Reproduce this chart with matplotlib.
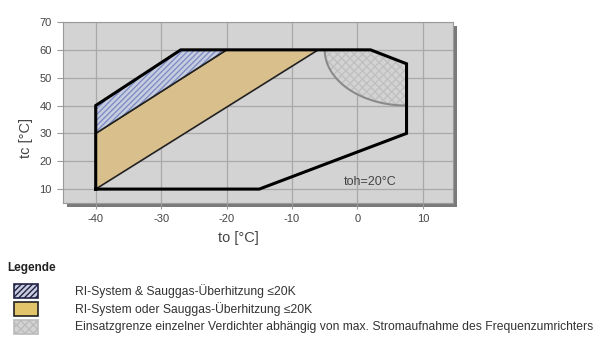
import matplotlib
matplotlib.use("Agg")
import matplotlib.pyplot as plt
from matplotlib.patches import Polygon, Rectangle
import numpy as np

plt.rcParams['font.family'] = ['Liberation Sans', 'DejaVu Sans']
plt.rcParams['hatch.linewidth'] = 1.0
plt.rcParams['axes.unicode_minus'] = False

# operating envelope (to, tc)
env_to = [-40, -40, -27, 2, 7.5, 7.5, -15, -40]
env_tc = [10, 40, 60, 60, 55, 30, 10, 10]
# RI-System & Sauggas-Ueberhitzung <=20K
blue_to = [-40, -40, -27, -20]
blue_tc = [30, 40, 60, 60]
# RI-System oder Sauggas-Ueberhitzung <=20K
tan_to = [-40, -40, -20, -6]
tan_tc = [10, 30, 60, 60]
# limit of single compressors (frequency inverter current)
lim_to = [-5, 2, 7.5, 7.5]
lim_tc = [60, 60, 55, 40]
arc_center = (7.5, 60)
arc_radius = (12.5, 20)

xticks = [-40, -30, -20, -10, 0, 10]
yticks = [10, 20, 30, 40, 50, 60, 70]
legend_labels = ["RI-System & Sauggas-Überhitzung ≤20K",
                 "RI-System oder Sauggas-Überhitzung ≤20K",
                 "Einsatzgrenze einzelner Verdichter abhängig von max. Stromaufnahme des Frequenzumrichters"]

fig = plt.figure(figsize=(6.11, 3.47), dpi=100)
W, H = 611, 347
l, r, b, t = 63, 453, 203, 22
ax = fig.add_axes([l / W, 1 - b / H, (r - l) / W, (b - t) / H])

# shadow behind plot area
fig.patches.append(Rectangle(((l + 4) / W, 1 - (b + 4) / H), (r - l) / W, (b - t) / H,
                             transform=fig.transFigure, facecolor='#7a7a7a',
                             edgecolor='none', zorder=0))
ax.set_zorder(1)
ax.set_facecolor('#d3d3d3')
ax.set_xlim(-45, 14.6)
ax.set_ylim(5, 70)
ax.set_xticks(xticks)
ax.set_yticks(yticks)
ax.grid(True, color='#a9a9a9', lw=0.9)
ax.set_axisbelow(True)
for s in ax.spines.values():
    s.set_color('#9a9a9a')
    s.set_linewidth(0.8)
ax.tick_params(length=4, color='#9a9a9a', labelsize=8, labelcolor='#444444', pad=4)
ax.set_xlabel('to [°C]', fontsize=10.5, color='#444444')
ax.set_ylabel('tc [°C]', fontsize=10.5, color='#444444')
ax.xaxis.set_label_coords(0.449, -0.155)
ax.yaxis.set_label_coords(-0.077, 0.36)

# cross hatched limit region with arc
th = np.linspace(np.pi, 1.5 * np.pi, 60)
arc_x = arc_center[0] + arc_radius[0] * np.cos(th)
arc_y = arc_center[1] + arc_radius[1] * np.sin(th)
lim_poly = np.column_stack([np.r_[arc_x, lim_to[::-1][:-1]], np.r_[arc_y, lim_tc[::-1][:-1]]])
ax.add_patch(Polygon(lim_poly, closed=True, facecolor='#d3d3d3', edgecolor='#c0c0c0',
                     hatch='xxxx', lw=0, zorder=2))
ax.plot(arc_x, arc_y, color='#8a8a8a', lw=1.5, zorder=3)

ax.add_patch(Polygon(np.column_stack([tan_to, tan_tc]), closed=True, facecolor='#d9bf8c',
                     edgecolor='#222222', lw=1.2, zorder=2))
ax.add_patch(Polygon(np.column_stack([blue_to, blue_tc]), closed=True, facecolor='#c8cde0',
                     edgecolor='#7f8fc4', hatch='//////', lw=0, zorder=2))
ax.plot([blue_to[0], blue_to[3]], [blue_tc[0], blue_tc[3]], color='#222222', lw=1.2, zorder=3)
ax.plot(env_to, env_tc, color='black', lw=2.2, zorder=4, solid_joinstyle='miter')

ax.text(2, 12.5, 'toh=20°C', fontsize=9, color='#444444', ha='center', va='center', zorder=5)

# legend
lax = fig.add_axes([0, 0, 1, 1 - 255 / H])
lax.set_xlim(0, W)
lax.set_ylim(H, 255)
lax.axis('off')
lax.text(7, 268, 'Legende', fontsize=8.5, fontweight='bold', va='center', color='#222222')
styles = [dict(facecolor='#c8cde0', edgecolor='#222244', hatch='//////'),
          dict(facecolor='#e2c46a', edgecolor='#222222'),
          dict(facecolor='#d3d3d3', edgecolor='#bbbbbb', hatch='xxxx')]
rows = [291, 309, 327]
for yy, st, lab in zip(rows, styles, legend_labels):
    lax.add_patch(Rectangle((14, yy - 7), 24, 14, lw=1.2, **st))
    lax.text(75, yy, lab, fontsize=8.7, va='center', color='#333333')

fig.savefig('out.png', dpi=100)
